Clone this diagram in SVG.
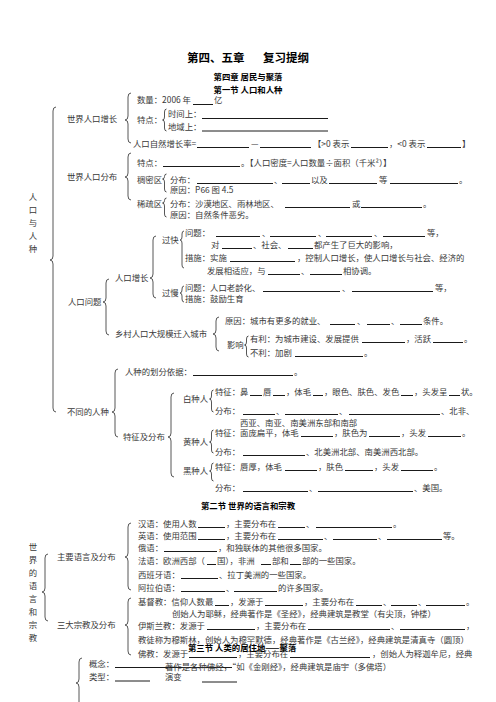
<svg xmlns="http://www.w3.org/2000/svg" width="496" height="702" viewBox="0 0 496 702">
<style>
.t{font-family:"Noto Sans CJK SC","Noto Sans",sans-serif;font-size:8.4px;fill:#383838}
.h{font-family:"Noto Sans CJK SC","Noto Sans",sans-serif;font-weight:bold;fill:#000}
.v{font-family:"Noto Sans CJK SC","Noto Sans",sans-serif;font-size:8.4px;fill:#383838;text-anchor:middle}
.br{fill:none;stroke:#444;stroke-width:0.9}
.ul{fill:none;stroke:#000;stroke-width:0.9}
</style>
<rect width="496" height="702" fill="#fff"/>
<g id="titles">
<text class="h" x="187" y="61.5" font-size="11.5">第四、五章</text>
<text class="h" x="263" y="61.5" font-size="11.5">复习提纲</text>
<text class="h" x="248" y="80" font-size="8.4" text-anchor="middle">第四章 居民与聚落</text>
<text class="h" x="248" y="93" font-size="8.4" text-anchor="middle">第一节 人口和人种</text>
<text class="h" x="248" y="509" font-size="8.4" text-anchor="middle">第二节 世界的语言和宗教</text>
</g>
<g id="connectors">
<path class="br" d="M56,107 Q53,107 53,111 L53,256 Q53,260 50,260 Q53,260 53,264 L53,408 Q53,412 56,412"/>
<path class="br" d="M131,93 Q128,93 128,97 L128,116 Q128,120 125,120 Q128,120 128,124 L128,139 Q128,143 131,143"/>
<path class="br" d="M166.5,109 Q164.5,109 164.5,112 L164.5,117 Q164.5,120 162.5,120 Q164.5,120 164.5,123 L164.5,128 Q164.5,131 166.5,131"/>
<path class="br" d="M131,153 Q128,153 128,157 L128,173 Q128,177 125,177 Q128,177 128,181 L128,196 Q128,200 131,200"/>
<path class="br" d="M166.5,174 Q164.5,174 164.5,176.5 Q164.5,179 162.5,179 Q164.5,179 164.5,182 L164.5,189 Q164.5,192 166.5,192"/>
<path class="br" d="M166.5,198 Q164.5,198 164.5,200.5 Q164.5,203 162.5,203 Q164.5,203 164.5,206 L164.5,214 Q164.5,217 166.5,217"/>
<path class="br" d="M156,236 Q153,236 153,240 L153,274 Q153,278 150,278 Q153,278 153,282 L153,294 Q153,298 156,298"/>
<path class="br" d="M184,231 Q182,231 182,234 L182,237 Q182,240 180,240 Q182,240 182,243 L182,265 Q182,268 184,268"/>
<path class="br" d="M184,286 Q182,286 182,289 L182,290 Q182,293 180,293 Q182,293 182,296 L182,299 Q182,302 184,302"/>
<path class="br" d="M109,279 Q106,279 106,283 L106,298 Q106,302 103,302 Q106,302 106,306 L106,331 Q106,335 109,335"/>
<path class="br" d="M219,317 Q216,317 216,321 L216,330 Q216,334 213,334 Q216,334 216,338 L216,347 Q216,351 219,351"/>
<path class="br" d="M248.5,336 Q246.5,336 246.5,339 L246.5,342 Q246.5,345 244.5,345 Q246.5,345 246.5,348 L246.5,354 Q246.5,357 248.5,357"/>
<path class="br" d="M118,369 Q115,369 115,373 L115,408 Q115,412 112,412 Q115,412 115,416 L115,433 Q115,437 118,437"/>
<path class="br" d="M174,393 Q171,393 171,397 L171,433 Q171,437 168,437 Q171,437 171,441 L171,473 Q171,477 174,477"/>
<path class="br" d="M213.5,390 Q211.5,390 211.5,393 L211.5,396 Q211.5,399 209.5,399 Q211.5,399 211.5,402 L211.5,409 Q211.5,412 213.5,412"/>
<path class="br" d="M213.5,430 Q211.5,430 211.5,433 L211.5,439 Q211.5,442 209.5,442 Q211.5,442 211.5,445 L211.5,450 Q211.5,453 213.5,453"/>
<path class="br" d="M213.5,463 Q211.5,463 211.5,466 L211.5,468 Q211.5,471 209.5,471 Q211.5,471 211.5,474 L211.5,478 Q211.5,481 213.5,481"/>
<path class="br" d="M48,554 Q45,554 45,558 L45,588 Q45,592 42,592 Q45,592 45,596 L45,617 Q45,621 48,621"/>
<path class="br" d="M131,523 Q128,523 128,527 L128,553 Q128,557 125,557 Q128,557 128,561 L128,586 Q128,590 131,590"/>
<path class="br" d="M131,598 Q128,598 128,602 L128,621 Q128,625 125,625 Q128,625 128,629 L128,651 Q128,655 131,655"/>
<path class="br" d="M82,658 Q79,658 79,662 L79,679 Q79,683 76,683 Q79,683 79,687 L79,712"/>
</g>
<g id="blanks">
<path class="ul" d="M193,104.5H213 M202,118.5H328 M202,131H328
M197,147.5H249 M260,147.5H311 M351,147.5H388 M427,147.5H461
M163,166.5H240
M197,183.5H273 M282,183.5H310 M329,183.5H377 M390,183.5H458
M285,207.5H350 M361,207.5H422
M216,236.5H260 M270,236.5H316 M326,236.5H372 M383,236.5H425
M222,248.5H252 M288,248.5H313
M230,261.5H295
M268,274.5H300 M310,274.5H342
M263,291.5H340 M352,291.5H433
M330,324.5H355 M367,324.5H390 M400,324.5H422
M362,342.5H405 M433,342.5H463
M295,356.5H363
M193,375.5H293
M250,395.5H262 M273,395.5H285 M313,395.5H323 M401,395.5H413 M449,395.5H460
M243,414.5H275 M285,414.5H338 M349,414.5H440
M301,436.5H333 M369,436.5H400 M428,436.5H461
M243,455.5H305
M285,470.5H317 M345,470.5H373 M401,470.5H433
M243,491.5H308 M318,491.5H413
M198,527.5H225 M278,527.5H305 M316,527.5H392
M198,539.5H225 M278,539.5H323 M333,539.5H377 M387,539.5H442
M164,551.5H217
M207,564.5H216 M261,564.5H271 M290,564.5H301
M181,578.5H218
M181,591.5H225 M234,591.5H277
M215,605.5H229 M265,605.5H303 M356,605.5H382 M391,605.5H417 M426,605.5H465
M207,629.5H255 M308,629.5H390 M400,629.5H465
M189,657.5H237 M290,657.5H370
M115,667.5H232
M115,681H150 M202,682H237"/>
</g>
<g id="population">
<text class="v" x="33" y="200">人</text>
<text class="v" x="33" y="213">口</text>
<text class="v" x="33" y="226">与</text>
<text class="v" x="33" y="239">人</text>
<text class="v" x="33" y="252">种</text>
<text class="t" x="67" y="122">世界人口增长</text>
<text class="t" x="137" y="103">数量：2006 年</text>
<text class="t" x="214" y="103">亿</text>
<text class="t" x="137" y="123">特点：</text>
<text class="t" x="168" y="117">时间上：</text>
<text class="t" x="168" y="129.5">地域上：</text>
<text class="t" x="133" y="146.5">人口自然增长率=</text>
<text class="t" x="251" y="146.5">—</text>
<text class="t" x="313" y="146.5">【&gt;0 表示</text>
<text class="t" x="389" y="146.5">，&lt;0 表示</text>
<text class="t" x="462" y="146.5">】</text>
<text class="t" x="67" y="180">世界人口分布</text>
<text class="t" x="137" y="165.5">特点：</text>
<text class="t" x="241" y="165.5">。【人口密度=人口数量÷面积（千米²）】</text>
<text class="t" x="137" y="182.5">稠密区</text>
<text class="t" x="170" y="182.5">分布：</text>
<text class="t" x="274" y="182.5">、</text>
<text class="t" x="311" y="182.5">以及</text>
<text class="t" x="379" y="182.5">等</text>
<text class="t" x="459" y="182.5">。</text>
<text class="t" x="170" y="193">原因：P66 图 4.5</text>
<text class="t" x="137" y="206.5">稀疏区</text>
<text class="t" x="170" y="206.5">分布：沙漠地区、雨林地区、</text>
<text class="t" x="352" y="206.5">或</text>
<text class="t" x="423" y="206.5">。</text>
<text class="t" x="170" y="218">原因：自然条件恶劣。</text>
</g>
<g id="problems">
<text class="t" x="68" y="305">人口问题</text>
<text class="t" x="115" y="281">人口增长</text>
<text class="t" x="162" y="243">过快</text>
<text class="t" x="185" y="235.5">问题：</text>
<text class="t" x="262" y="235.5">、</text>
<text class="t" x="318" y="235.5">、</text>
<text class="t" x="374" y="235.5">、</text>
<text class="t" x="427" y="235.5">等，</text>
<text class="t" x="211" y="247.5">对</text>
<text class="t" x="253" y="247.5">、社会、</text>
<text class="t" x="314" y="247.5">都产生了巨大的影响，</text>
<text class="t" x="185" y="260.5">措施：实施</text>
<text class="t" x="297" y="260.5">，控制人口增长，使人口增长与社会、经济的</text>
<text class="t" x="207" y="273.5">发展相适应，与</text>
<text class="t" x="301" y="273.5">、</text>
<text class="t" x="343" y="273.5">相协调。</text>
<text class="t" x="162" y="296">过慢</text>
<text class="t" x="185" y="290.5">问题：人口老龄化、</text>
<text class="t" x="342" y="290.5">、</text>
<text class="t" x="435" y="290.5">等，</text>
<text class="t" x="185" y="302">措施：鼓励生育</text>
<text class="t" x="115" y="337">乡村人口大规模迁入城市</text>
<text class="t" x="225" y="323.5">原因：城市有更多的就业、</text>
<text class="t" x="357" y="323.5">、</text>
<text class="t" x="391" y="323.5">、</text>
<text class="t" x="423" y="323.5">条件。</text>
<text class="t" x="227" y="348">影响</text>
<text class="t" x="250" y="341.5">有利：为城市建设、发展提供</text>
<text class="t" x="406" y="341.5">，活跃</text>
<text class="t" x="464" y="341.5">。</text>
<text class="t" x="250" y="355.5">不利：加剧</text>
<text class="t" x="364" y="355.5">。</text>
</g>
<g id="races">
<text class="t" x="67" y="415">不同的人种</text>
<text class="t" x="125" y="374.5">人种的划分依据：</text>
<text class="t" x="294" y="374.5">。</text>
<text class="t" x="123" y="440">特征及分布</text>
<text class="t" x="183" y="402">白种人</text>
<text class="t" x="215" y="394.5">特征：鼻</text>
<text class="t" x="263" y="394.5">唇</text>
<text class="t" x="286" y="394.5">，体毛</text>
<text class="t" x="324" y="394.5">，眼色、肤色、发色</text>
<text class="t" x="414" y="394.5">，头发呈</text>
<text class="t" x="461" y="394.5">状。</text>
<text class="t" x="215" y="413.5">分布：</text>
<text class="t" x="276" y="413.5">、</text>
<text class="t" x="339" y="413.5">、</text>
<text class="t" x="441" y="413.5">、北非、</text>
<text class="t" x="240" y="426">西亚、南亚、南美洲东部和南部</text>
<text class="t" x="183" y="445">黄种人</text>
<text class="t" x="215" y="435.5">特征：面庞扁平，体毛</text>
<text class="t" x="334" y="435.5">，肤色为</text>
<text class="t" x="401" y="435.5">，头发</text>
<text class="t" x="462" y="435.5">。</text>
<text class="t" x="215" y="454.5">分布：</text>
<text class="t" x="306" y="454.5">、北美洲北部、南美洲西北部。</text>
<text class="t" x="183" y="474">黑种人</text>
<text class="t" x="215" y="469.5">特征：唇厚，体毛</text>
<text class="t" x="318" y="469.5">，肤色</text>
<text class="t" x="374" y="469.5">，头发</text>
<text class="t" x="434" y="469.5">。</text>
<text class="t" x="215" y="490.5">分布：</text>
<text class="t" x="309" y="490.5">、</text>
<text class="t" x="414" y="490.5">、美国。</text>
</g>
<g id="languages">
<text class="v" x="33" y="550">世</text>
<text class="v" x="33" y="563">界</text>
<text class="v" x="33" y="576">的</text>
<text class="v" x="33" y="589">语</text>
<text class="v" x="33" y="602">言</text>
<text class="v" x="33" y="615">和</text>
<text class="v" x="33" y="628">宗</text>
<text class="v" x="33" y="641">教</text>
<text class="t" x="57" y="560">主要语言及分布</text>
<text class="t" x="138" y="526.5">汉语：使用人数</text>
<text class="t" x="226" y="526.5">，主要分布在</text>
<text class="t" x="306" y="526.5">、</text>
<text class="t" x="393" y="526.5">。</text>
<text class="t" x="138" y="538.5">英语：使用范围</text>
<text class="t" x="226" y="538.5">，主要分布在</text>
<text class="t" x="324" y="538.5">、</text>
<text class="t" x="378" y="538.5">、</text>
<text class="t" x="443" y="538.5">等。</text>
<text class="t" x="138" y="550.5">俄语：</text>
<text class="t" x="218" y="550.5">，和独联体的其他很多国家。</text>
<text class="t" x="138" y="563.5">法语：欧洲西部（</text>
<text class="t" x="217" y="563.5">国），非洲</text>
<text class="t" x="272" y="563.5">部和</text>
<text class="t" x="302" y="563.5">部的一些国家。</text>
<text class="t" x="138" y="577.5">西班牙语：</text>
<text class="t" x="219" y="577.5">、拉丁美洲的一些国家。</text>
<text class="t" x="138" y="590.5">阿拉伯语：</text>
<text class="t" x="226" y="590.5">、</text>
<text class="t" x="278" y="590.5">的许多国家。</text>
</g>
<g id="religions">
<text class="t" x="57" y="628">三大宗教及分布</text>
<text class="t" x="138" y="604.5">基督教：信仰人数最</text>
<text class="t" x="230" y="604.5">，发源于</text>
<text class="t" x="304" y="604.5">，主要分布在</text>
<text class="t" x="383" y="604.5">、</text>
<text class="t" x="418" y="604.5">、</text>
<text class="t" x="466" y="604.5">。</text>
<text class="t" x="172" y="617">创始人为耶稣，经典著作是《圣经》，经典建筑是教堂（有尖顶，钟楼）</text>
<text class="t" x="138" y="628.5">伊斯兰教：发源于</text>
<text class="t" x="256" y="628.5">，主要分布在</text>
<text class="t" x="391" y="628.5">、</text>
<text class="t" x="466" y="628.5">，</text>
<text class="t" x="138" y="643">教徒称为穆斯林，创始人为穆罕默德，经典著作是《古兰经》，经典建筑是清真寺（圆顶）</text>
<text class="t" x="138" y="656.5">佛教：发源于</text>
<text class="t" x="238" y="656.5">，主要分布在</text>
<text class="t" x="372" y="656.5">，创始人为释迦牟尼，经典</text>
<text class="t" x="165" y="670">著作是各种佛经，“如《金刚经》，经典建筑是庙宇（多佛塔）</text>
</g>
<g id="settlement">
<text class="h" x="188" y="651" font-size="8.4">第三节 人类的居住地——聚落</text>
<text class="t" x="89" y="667">概念：</text>
<text class="t" x="89" y="679.5">类型：</text>
<text class="t" x="165" y="680" font-size="7.5">演变</text>
</g>
</svg>
